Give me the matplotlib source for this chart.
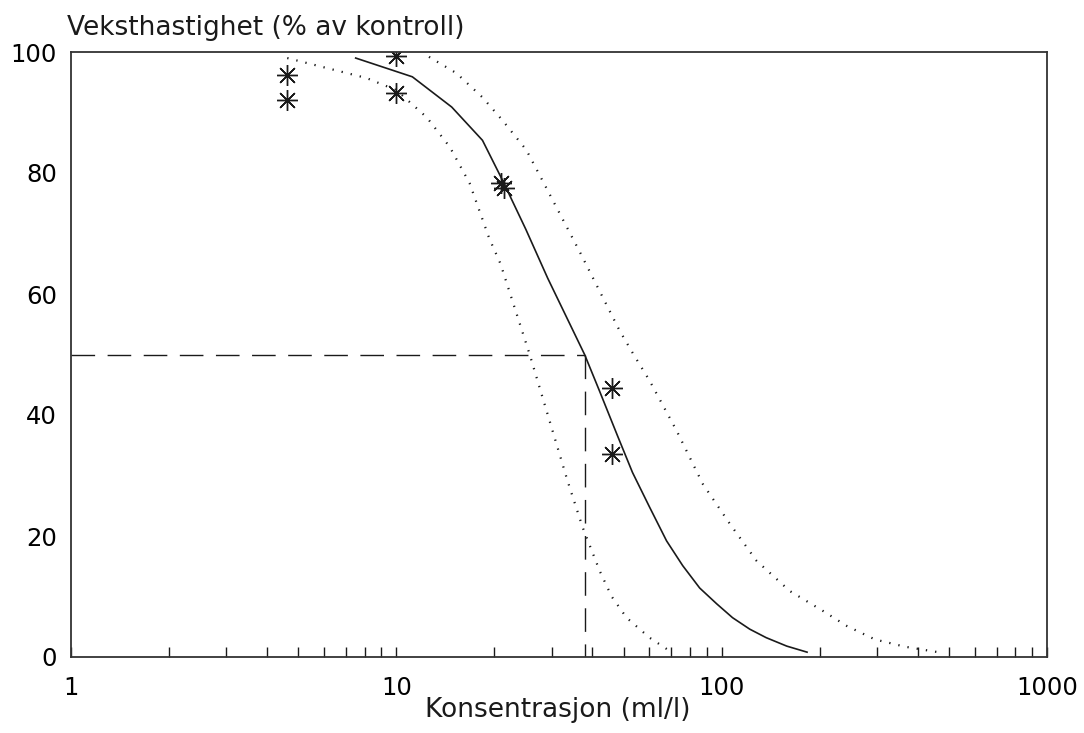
import numpy as np
import matplotlib.pyplot as plt

# Observerte verdier (konsentrasjon ml/l, veksthastighet % av kontroll)
obs_conc = [4.6, 4.6, 10.0, 10.0, 21.0, 21.4, 45.9, 45.9]
obs_rate = [96.2, 92.1, 99.3, 93.3, 78.3, 77.6, 44.5, 33.6]

# Tilpasset kurve
fit_conc = [7.5, 11.2, 14.8, 18.4, 21.2, 25.0, 29.2, 37.9, 42.1, 47.9, 53.2, 60.0, 67.7,
            75.9, 85.6, 96.5, 108, 122, 137, 158.5, 183]
fit_rate = [99.0, 95.9, 90.9, 85.4, 78.8, 70.7, 62.6, 50.0, 44.0, 36.5, 30.5, 24.8, 19.2,
            15.1, 11.4, 8.8, 6.5, 4.6, 3.2, 1.8, 0.8]

# Konfidensgrenser
low_conc = [4.62, 8.09, 10.0, 12.4, 14.6, 16.8, 19.3, 20.9, 25.7, 33.6, 37.4, 42.2, 45.9,
            51.0, 60.0, 69.2]
low_rate = [99.0, 95.7, 93.7, 89.2, 84.3, 78.3, 69.2, 65.0, 50.0, 29.1, 21.4, 14.2, 10.0,
            6.5, 3.2, 1.0]
up_conc = [12.6, 15.3, 18.4, 21.2, 25.1, 28.1, 36.6, 48.5, 53.6, 60.0, 72.7, 87.5, 106,
           128, 162, 205, 243, 296, 366, 475]
up_rate = [99.2, 96.5, 92.5, 88.7, 83.8, 78.8, 67.0, 54.0, 50.0, 45.7, 37.4, 28.6, 22.0,
           15.9, 10.9, 7.6, 5.1, 2.9, 1.7, 0.7]

ec50 = 37.9

col = '#1a1a1a'
plt.rcParams['font.family'] = ['DejaVu Sans']

fig = plt.figure(figsize=(10.84, 7.33), dpi=100)
ax = fig.add_axes([71 / 1084, 1 - 657 / 733, (1047 - 71) / 1084, (657 - 52) / 733])

ax.plot(fit_conc, fit_rate, color=col, lw=1.2)
ax.plot(low_conc, low_rate, color=col, lw=1.6, linestyle=(0, (0.6, 3.6)))
ax.plot(up_conc, up_rate, color=col, lw=1.6, linestyle=(0, (0.6, 3.6)))
ax.plot(obs_conc, obs_rate, linestyle='none', marker=(8, 2, 0), markersize=15,
        markeredgewidth=1.0, color=col)

# EC50-linjer
ax.plot([1, ec50], [50, 50], color=col, lw=1.0, linestyle=(0, (17, 9)))
ax.plot([ec50, ec50], [50, 0], color=col, lw=1.0, linestyle=(0, (17, 9)))

ax.set_xscale('log')
ax.set_xlim(1, 1000)
ax.set_ylim(0, 100)

ax.set_xticks([1, 10, 100, 1000])
ax.set_xticklabels(['1', '10', '100', '1000'])
ax.set_xticks([m * d for d in [1, 10, 100] for m in range(2, 10)], minor=True)
ax.set_yticks([0, 20, 40, 60, 80, 100])

ax.tick_params(axis='x', which='both', direction='in', length=7, width=1.0,
               color=col, labelsize=17.5, pad=14, top=False)
ax.tick_params(axis='y', which='both', length=0, labelsize=17.5, pad=10)

for s in ax.spines.values():
    s.set_linewidth(1.3)
    s.set_color('#333333')

fig.text(67 / 1084, 1 - 35 / 733, 'Veksthastighet (% av kontroll)',
         fontsize=19, ha='left', va='baseline', color=col)
fig.text(558 / 1084, 1 - 717 / 733, 'Konsentrasjon (ml/l)',
         fontsize=19, ha='center', va='baseline', color=col)

fig.savefig('out.png', dpi=100)
